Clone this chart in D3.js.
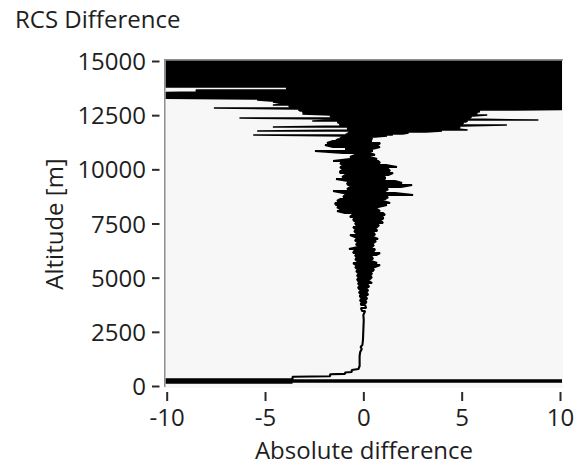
<!DOCTYPE html>
<html>
<head>
<meta charset="utf-8">
<script src="https://cdn.jsdelivr.net/npm/d3@7"></script>
<style>
  html, body { margin: 0; padding: 0; background: #ffffff; }
  svg text { font-family: "Open Sans", "Noto Sans", sans-serif; fill: #1e1e1e; }
</style>
</head>
<body>
<svg id="chart" width="577" height="467"></svg>
<script>
// RCS difference profile. Each row is one altitude sample band: [altitude m, lowest diff, highest diff].
// The raw trace swings back and forth inside each band; beyond +-10 it saturates.
const upperRows = [
  [15091,-12,12],[15045,-12,12],[14999,-12,12],[14953,-12,12],[14906,-12,12],[14860,-12,12],
  [14814,-12,12],[14768,-12,12],[14722,-12,12],[14676,-12,12],[14630,-12,12],[14583,-12,12],
  [14537,-12,12],[14491,-12,12],[14445,-12,12],[14399,-12,12],[14353,-12,12],[14307,-12,12],
  [14260,-12,12],[14214,-12,7.9],[14168,-12,12],[14122,-12,12],[14076,-12,12],[14030,-12,12],
  [13983,-12,12],[13937,-12,12],[13891,-12,12],[13845,-12,12],[13799,-12,12],
  [13753,-3.9,12],[13707,-3.9,12],[13660,-8.5,12],[13614,-8.5,12],[13568,-8.5,12],
  [13522,-12,12],[13476,-12,12],[13430,-12,12],[13384,-12,12],[13337,-12,12],[13291,-12,9.6],
  [13245,-5.6,12],[13199,-5.4,12],[13153,-4.7,12],[13107,-4.6,12],[13060,-4.3,12],[13014,-3.8,12],
  [12968,-4.6,8.1],[12922,-3.8,12],[12876,-3.7,12],[12830,-7.6,12],[12784,-3.5,12],
  [12737,-3.3,7.7],[12691,-3.2,5.9],[12645,-3.1,5.9],[12599,-3.0,5.8],[12553,-3.1,5.7],
  [12507,-1.7,6.3],[12460,-1.7,5.6],[12414,-1.6,5.5],[12368,-6.3,5.4],[12322,-1.4,5.4],
  [12276,-1.4,8.9],[12230,-2.6,5.3],[12184,-1.3,5.2],[12137,-1.3,5.1],[12091,-1.2,5.0],
  [12045,-1.2,7.3],[11999,-1.1,5.0],[11953,-4.6,4.9],[11907,-0.8,4.9],[11861,-0.8,4.8],
  [11814,-0.7,5.3],[11768,-5.4,4.0],[11722,-0.7,3.2],[11676,-0.8,2.3],[11630,-0.9,2.0],
  [11584,-5.6,1.5],[11538,-1.0,1.2],[11491,-1.0,0.6],[11445,-1.2,0.45],[11399,-1.3,0.45],
  [11353,-1.4,0.45]
];

const middleRows = [
  [11307,-1.54,0.44],[11214,-1.85,0.85],[11122,-1.95,0.75],[11030,-1.54,0.85],[10938,-0.93,0.44],
  [10845,-2.46,0.49],[10753,-1.03,0.34],[10661,-0.42,0.59],[10568,-0.68,0.34],[10476,-0.68,0.70],
  [10384,-1.54,0.75],[10291,-1.18,0.85],[10199,-1.08,1.15],[10107,-1.18,1.71],[10015,-1.08,1.26],
  [9922,-1.18,1.36],[9830,-1.18,1.51],[9738,-0.93,1.26],[9645,-1.08,1.10],[9553,-1.39,1.10],
  [9461,-0.78,1.61],[9368,-0.83,1.97],[9276,-0.78,2.48],[9184,-0.68,1.91],[9092,-0.83,1.26],
  [8999,-1.54,1.10],[8907,-1.03,1.61],[8815,-0.93,2.53],[8722,-1.03,1.26],[8630,-1.18,1.10],
  [8538,-1.34,1.00],[8445,-1.44,1.36],[8353,-1.39,1.20],[8261,-1.34,0.75],[8169,-1.18,0.70],
  [8076,-1.34,0.85],[7984,-0.93,1.00],[7892,-0.57,1.10],[7799,-0.68,1.00],[7707,-0.52,1.00],
  [7615,-0.47,0.90],[7522,-0.42,1.00],[7430,-0.37,0.80],[7338,-0.52,0.70],[7246,-0.42,0.65],
  [7153,-0.47,0.70],[7061,-0.37,0.54],[6969,-0.68,0.59],[6876,-0.42,0.49],[6784,-0.37,0.75],
  [6692,-0.42,0.65],[6599,-0.32,0.49],[6507,-0.37,0.54],[6415,-0.27,0.44],[6323,-0.73,0.59],
  [6230,-0.47,0.54],[6138,-0.52,0.85],[6046,-0.42,0.65],[5953,-0.37,0.44],[5861,-0.42,0.49],
  [5769,-0.32,0.39],[5676,-0.52,0.70],[5584,-0.37,0.85],[5492,-0.42,0.59],[5400,-0.32,0.54],
  [5307,-0.37,0.49],[5215,-0.27,0.44],[5123,-0.32,0.39],[5030,-0.27,0.44],[4938,-0.32,0.34],
  [4846,-0.27,0.29],[4753,-0.27,0.44],[4661,-0.22,0.24],[4569,-0.27,0.29],[4477,-0.22,0.19],
  [4384,-0.17,0.24],[4292,-0.22,0.19],[4200,-0.17,0.24],[4107,-0.17,0.14],[4015,-0.12,0.19],
  [3923,-0.17,0.14],[3830,-0.12,0.14],[3738,-0.12,0.09],[3600,-0.12,0.14],[3461,-0.07,0.09]
];

// Quiet lower troposphere: a single trace [altitude m, diff]
const lowerTrace = [
  [3277,0.0],[3046,0.02],[2584,0.0],[2123,-0.02],[1892,-0.05],[1800,-0.14],[1708,-0.08],
  [1569,-0.16],[1385,-0.19],[1200,-0.19],[923,-0.19],[785,-0.25],[738,-0.59],[646,-0.59],
  [623,-0.93],[560,-0.93],[540,-1.69],[450,-1.69],[429,-3.6]
];

// Near-range overlap bins, saturated
const groundRows = [
  [309,-12,-3.6],[263,-12,12],[198,-12,12],[152,-12,-3.6]
];

const xTicks = [-10, -5, 0, 5, 10];
const yTicks = [0, 2500, 5000, 7500, 10000, 12500, 15000];

const titleText = "RCS Difference";
const xTitle = "Absolute difference";
const yTitle = "Altitude [m]";

// ---- layout ----
const frame = { left: 164, right: 563, top: 59, bottom: 388 };
const x = d3.scaleLinear().domain([-10, 10]).range([166.7, 560]);
const y = d3.scaleLinear().domain([0, 15000]).range([386, 61]);

const svg = d3.select("#chart");

svg.append("rect")
  .attr("x", frame.left).attr("y", frame.top)
  .attr("width", frame.right - frame.left).attr("height", frame.bottom - frame.top)
  .attr("fill", "#f7f7f7");

svg.append("defs").append("clipPath").attr("id", "plotClip")
  .append("rect")
  .attr("x", frame.left + 1.5).attr("y", frame.top + 1.2)
  .attr("width", frame.right - frame.left - 2.5).attr("height", frame.bottom - frame.top - 1.2);

// Walk the bands as a serpentine: each row is traversed starting from the end nearest the pen.
function serpentine(rows, pen) {
  const pts = [];
  rows.forEach(([alt, lo, hi]) => {
    if (pen !== null && Math.abs(pen - hi) < Math.abs(pen - lo)) {
      pts.push([hi, alt], [lo, alt]); pen = lo;
    } else {
      pts.push([lo, alt], [hi, alt]); pen = hi;
    }
  });
  return { pts, pen };
}

const line = d3.line().x(d => x(d[0])).y(d => y(d[1]));
const traceG = svg.append("g").attr("clip-path", "url(#plotClip)");

const upper = serpentine(upperRows, null);
traceG.append("path")
  .attr("d", line(upper.pts))
  .attr("fill", "none").attr("stroke", "#000")
  .attr("stroke-width", 1.4).attr("stroke-linejoin", "bevel");

const mid = serpentine(middleRows, upper.pen);
const ground = serpentine(groundRows, lowerTrace[lowerTrace.length - 1][1]);
const lowerPts = mid.pts
  .concat(lowerTrace.map(([alt, v]) => [v, alt]))
  .concat(ground.pts);
traceG.append("path")
  .attr("d", line(lowerPts))
  .attr("fill", "none").attr("stroke", "#000")
  .attr("stroke-width", 2.1).attr("stroke-linejoin", "bevel");

// plot frame (left and top edges)
svg.append("path")
  .attr("d", `M${frame.left + 0.75},${frame.bottom - 1}V${frame.top + 0.75}H${frame.right}`)
  .attr("fill", "none").attr("stroke", "#8e8e8e").attr("stroke-width", 1.5);

// ---- axes ----
const plain = d => String(d);   // ASCII hyphen for negatives
const yAxis = d3.axisLeft(y).tickValues(yTicks).tickSize(7.5).tickPadding(6).tickFormat(plain);
const gy = svg.append("g").attr("transform", "translate(159.5,0)").call(yAxis);
gy.select(".domain").remove();
gy.selectAll(".tick line").attr("stroke", "#2a2a2a").attr("stroke-width", 2);
gy.selectAll(".tick text").attr("font-size", 24).attr("dy", "0.36em");

const xAxis = d3.axisBottom(x).tickValues(xTicks).tickSize(9).tickPadding(8).tickFormat(plain);
const gx = svg.append("g").attr("transform", "translate(0,392)").call(xAxis);
gx.select(".domain").remove();
gx.selectAll(".tick line").attr("stroke", "#2a2a2a").attr("stroke-width", 2);
gx.selectAll(".tick text").attr("font-size", 24);
gy.attr("font-family", null).attr("font-size", null);
gx.attr("font-family", null).attr("font-size", null);

// ---- titles ----
svg.append("text").attr("x", 15).attr("y", 28).attr("font-size", 24).text(titleText);
svg.append("text").attr("x", 364).attr("y", 459).attr("text-anchor", "middle").attr("font-size", 24).text(xTitle);
svg.append("text").attr("transform", "translate(63,224) rotate(-90)")
  .attr("text-anchor", "middle").attr("font-size", 24).text(yTitle);
</script>
</body>
</html>
